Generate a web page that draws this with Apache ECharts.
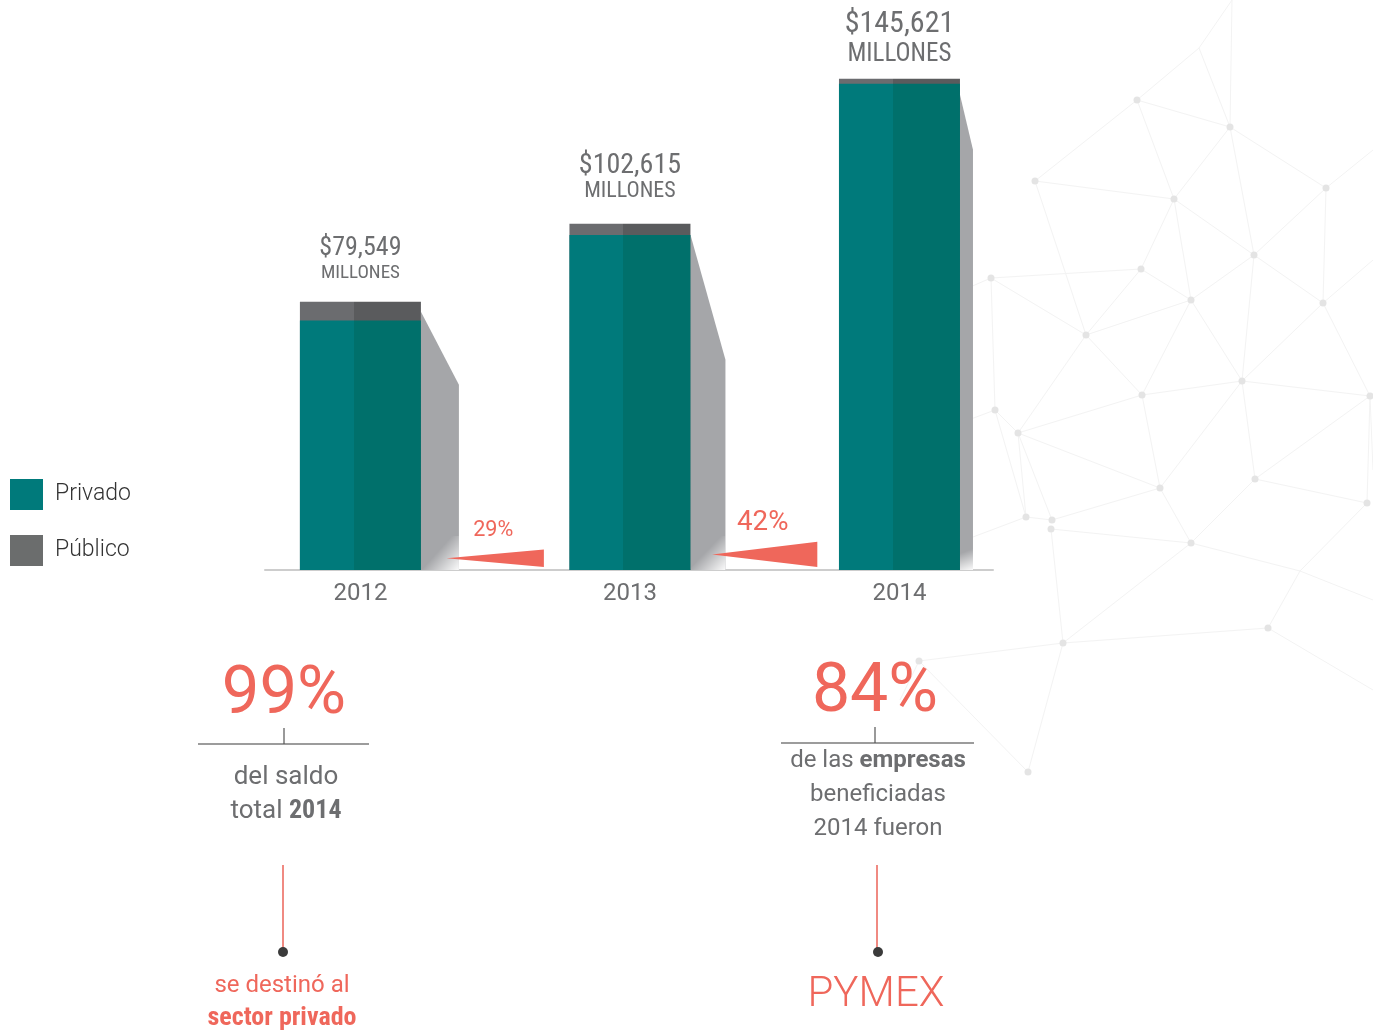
<!DOCTYPE html>
<html><head><meta charset="utf-8">
<script src="https://cdn.jsdelivr.net/npm/echarts@6/dist/echarts.min.js"></script>
<style>html,body{margin:0;padding:0;background:#fff}#c{width:1373px;height:1034px}</style>
</head><body><div id="c"></div>
<script>
// ---------- data ----------
const years = [2012, 2013, 2014];
const totals = [79549, 102615, 145621];       // total balance (millones)
const privado = [73949, 99315, 144121];       // private-sector part (teal)
const valueLabels = ['$79,549', '$102,615', '$145,621'];
const unitLabel = 'MILLONES';
const growthPos = [2012.5, 2013.5];
const growth = [29, 42];
const seriesNames = ['Privado', 'Público'];

// ---------- styles ----------
const RED = '#ef675b';
const GREY_TXT = '#6d6e70';
const COND = "'Roboto Condensed','Liberation Sans Narrow','DejaVu Sans Condensed',Roboto,sans-serif";
const ROB = "Roboto, sans-serif";
const labelStyles = [
  {a: 26, b: 19, la: 28, lb: 22, d: 17},
  {a: 28, b: 22, la: 28, lb: 24, d: 20},
  {a: 30, b: 25, la: 32, lb: 28, d: 10}
];
const shadowGeom = [
  {dy: 10, dx: 38, dy2: 83},
  {dy: 11, dx: 35, dy2: 136},
  {dy: 16, dx: 13, dy2: 71}
];
function split(c1, c2) {
  return new echarts.graphic.LinearGradient(0, 0, 1, 0, [
    {offset: 0, color: c1}, {offset: 0.446, color: c1},
    {offset: 0.446, color: c2}, {offset: 1, color: c2}
  ]);
}

// ---------- background network (decoration) ----------
const N = {
  A:[1137,100],B:[1230,127],C:[1035,181],D:[1174,199],E:[1326,188],F:[1141,269],G:[1254,255],
  H:[991,278],I:[1086,335],J:[1191,300],K:[1323,303],L:[1242,381],M:[1142,395],NN:[995,410],
  O:[1018,433],P:[1370,396],Q:[1160,488],R:[1255,479],S:[1026,517],T:[1052,520],U:[1051,529],
  V:[1367,503],W:[1191,543],X:[1063,643],Y:[1268,628],Z:[919,661],AA:[1028,772]
};
const J0 = [1199,48], J1 = [1300,571];
const edges = [
  [[1232,0],J0],[J0,N.A],[J0,N.B],[[1232,0],N.B],[N.A,N.C],[N.A,N.B],[N.A,N.D],[N.C,N.D],[N.C,N.I],
  [N.D,N.B],[N.D,N.F],[N.D,N.G],[N.D,N.J],[N.B,N.G],[N.B,N.E],[N.E,N.G],[N.E,N.K],[N.G,N.J],[N.G,N.K],
  [N.G,N.L],[N.F,N.H],[N.F,N.I],[N.F,N.J],[N.H,N.I],[N.H,N.NN],[N.I,N.J],[N.I,N.O],[N.I,N.M],
  [N.J,N.M],[N.J,N.L],[N.K,N.L],[N.K,N.P],[N.L,N.M],[N.L,N.P],[N.L,N.Q],[N.L,N.R],[N.M,N.Q],[N.M,N.O],
  [N.NN,N.O],[N.NN,N.S],[N.O,N.S],[N.O,N.T],[N.O,N.Q],[N.S,N.T],[N.T,N.Q],[N.U,N.W],[N.U,N.X],
  [N.Q,N.W],[N.R,N.W],[N.R,N.V],[N.P,N.V],[N.R,N.P],[N.W,J1],[J1,N.V],[J1,N.Y],[J1,[1373,600]],
  [N.W,N.X],[N.X,N.Y],[N.X,N.Z],[N.X,N.AA],[N.Z,N.AA],[N.Y,[1373,690]],[N.P,[1373,470]],
  [N.H,[940,300]],[N.NN,[955,425]],[N.S,[965,540]],[N.Z,[900,700]],[N.K,[1373,260]],[N.E,[1373,150]]
];
const netGraphics = [];
edges.forEach(e => netGraphics.push({type:'line', z:-10, silent:true,
  shape:{x1:e[0][0],y1:e[0][1],x2:e[1][0],y2:e[1][1]}, style:{stroke:'#f3f3f3', lineWidth:1}}));
Object.keys(N).forEach(k => netGraphics.push({type:'circle', z:-9, silent:true,
  shape:{cx:N[k][0],cy:N[k][1],r:3.5}, style:{fill:'#e4e4e4'}}));

// ---------- annotations ----------
const ann = [
  {type:'text', style:{text:'99%', x:284, y:696, align:'center', verticalAlign:'middle',
    fill:RED, font:"400 67px "+ROB}},
  {type:'line', shape:{x1:198,y1:744,x2:369,y2:744}, style:{stroke:'#9c9c9c', lineWidth:2}},
  {type:'line', shape:{x1:284,y1:728,x2:284,y2:744}, style:{stroke:'#555', lineWidth:1.2}},
  {type:'text', style:{x:286, y:777, text:'del saldo', align:'center', verticalAlign:'middle',
    fill:GREY_TXT, font:"400 26px "+ROB}},
  {type:'text', style:{x:286, y:811, text:'{n|total }{b|2014}', align:'center', verticalAlign:'middle',
    rich:{n:{fill:GREY_TXT, font:"400 26px "+ROB}, b:{fill:GREY_TXT, font:"700 26px "+COND}}}},
  {type:'line', shape:{x1:283,y1:865,x2:283,y2:948}, style:{stroke:'#f08a82', lineWidth:2}},
  {type:'circle', shape:{cx:283,cy:952,r:5}, style:{fill:'#3b3b3b'}},
  {type:'text', style:{x:282, y:986, text:'se destinó al', align:'center', verticalAlign:'middle',
    fill:RED, font:"400 24px "+ROB}},
  {type:'text', style:{x:282, y:1018, text:'sector privado', align:'center', verticalAlign:'middle',
    fill:RED, font:"700 26px "+COND}},

  {type:'text', style:{x:875, y:694, text:'84%', align:'center', verticalAlign:'middle',
    fill:RED, font:"400 68px "+ROB}},
  {type:'line', shape:{x1:781,y1:743,x2:974,y2:743}, style:{stroke:'#9c9c9c', lineWidth:2}},
  {type:'line', shape:{x1:875,y1:727,x2:875,y2:743}, style:{stroke:'#555', lineWidth:1.2}},
  {type:'text', style:{x:878, y:761, text:'{n|de las }{b|empresas}', align:'center', verticalAlign:'middle',
    rich:{n:{fill:GREY_TXT, font:"400 24px "+ROB}, b:{fill:GREY_TXT, font:"700 24px "+ROB}}}},
  {type:'text', style:{x:878, y:795, text:'beneficiadas', align:'center', verticalAlign:'middle',
    fill:GREY_TXT, font:"400 24px "+ROB}},
  {type:'text', style:{x:878, y:829, text:'2014 fueron', align:'center', verticalAlign:'middle',
    fill:GREY_TXT, font:"400 24px "+ROB}},
  {type:'line', shape:{x1:877,y1:865,x2:877,y2:948}, style:{stroke:'#f08a82', lineWidth:2}},
  {type:'circle', shape:{cx:878,cy:952,r:5}, style:{fill:'#3b3b3b'}},
  {type:'text', style:{x:876, y:995, text:'PYMEX', align:'center', verticalAlign:'middle',
    fill:RED, font:"300 42px "+ROB}}
];

// ---------- chart ----------
const chart = echarts.init(document.getElementById('c'));
const option = {
  animation: false,
  backgroundColor: '#fff',
  grid: {left: 265, right: 380, top: 64, bottom: 464},
  xAxis: {
    type: 'value', min: 2011.646, max: 2014.347,
    splitLine: {show: false}, axisTick: {show: false},
    axisLine: {show: true, lineStyle: {color: '#cdcdcd', width: 2}},
    axisLabel: {customValues: years, formatter: v => String(v), color: GREY_TXT,
      fontSize: 24, fontFamily: 'Roboto', margin: 12}
  },
  yAxis: {type: 'value', min: 0, max: 150000, show: false},
  legend: {
    orient: 'vertical', left: 10, top: 479, padding: 0, itemWidth: 33, itemHeight: 31, itemGap: 25,
    icon: 'rect', selectedMode: false,
    textStyle: {fontSize: 23, color: '#333', fontFamily: 'Roboto', fontWeight: 300, padding: [0,0,0,7]},
    data: [{name: seriesNames[0], itemStyle: {color: '#007a7b'}},
           {name: seriesNames[1], itemStyle: {color: '#6b6d6d'}}]
  },
  series: [
    {
      name: seriesNames[1], type: 'bar', barWidth: 121, barGap: '-100%', z: 2,
      itemStyle: {color: split('#6b6c6f', '#5a5b5d')},
      data: years.map((y, i) => {
        const s = labelStyles[i];
        return {
          value: [y, totals[i]],
          label: {
            show: true, position: 'top', distance: s.d,
            formatter: '{a|' + valueLabels[i] + '}\n{b|' + unitLabel + '}',
            rich: {
              a: {fontSize: s.a, lineHeight: s.la, color: GREY_TXT, fontFamily: COND, align: 'center'},
              b: {fontSize: s.b, lineHeight: s.lb, color: GREY_TXT, fontFamily: COND, align: 'center'}
            }
          }
        };
      })
    },
    {
      name: seriesNames[0], type: 'bar', barWidth: 121, barGap: '-100%', z: 3,
      itemStyle: {color: split('#007a7b', '#00706b')},
      data: years.map((y, i) => [y, privado[i]])
    },
    {
      name: 'sombra', type: 'custom', z: 1, silent: true,
      data: years.map((y, i) => [y, totals[i]]),
      renderItem: function (params, api) {
        const g = shadowGeom[params.dataIndex];
        const top = api.coord([api.value(0), api.value(1)]);
        const base = api.coord([api.value(0), 0]);
        const r = top[0] + 60.5;
        return {type: 'group', children: [
          {type: 'polygon', shape: {points: [[r, top[1] + g.dy], [r + g.dx, top[1] + g.dy2],
            [r + g.dx, base[1]], [r, base[1]]]}, style: {fill: '#a5a6a9'}},
          {type: 'rect', shape: {x: r, y: base[1] - 34, width: g.dx, height: 34},
            style: {fill: new echarts.graphic.LinearGradient(0, 0, 1, 1, [
              {offset: 0, color: 'rgba(255,255,255,0)'}, {offset: 0.45, color: 'rgba(255,255,255,0)'},
              {offset: 1, color: 'rgba(255,255,255,0.95)'}])}}
        ]};
      }
    },
    {
      name: 'crecimiento', type: 'custom', z: 4, silent: true,
      data: growthPos.map((x, i) => [x, growth[i]]),
      renderItem: function (params, api) {
        const v = api.value(1);
        const c = api.coord([api.value(0), 0]);
        const w = 40 + v * 0.3;
        const h = v * 0.6;
        const br = c[1] - 3;
        const fs = 8 + v * 0.47;
        return {type: 'group', children: [
          {type: 'polygon', shape: {points: [[c[0] - w, br - h / 2], [c[0] + w, br - h], [c[0] + w, br]]},
            style: {fill: RED}},
          {type: 'text', style: {x: c[0] - 2, y: br - h - 19, text: v + '%', align: 'center',
            verticalAlign: 'middle', fill: RED, font: '400 ' + fs.toFixed(1) + 'px ' + ROB}}
        ]};
      }
    }
  ],
  graphic: netGraphics.concat(ann)
};
chart.setOption(option);
</script>
</body></html>
